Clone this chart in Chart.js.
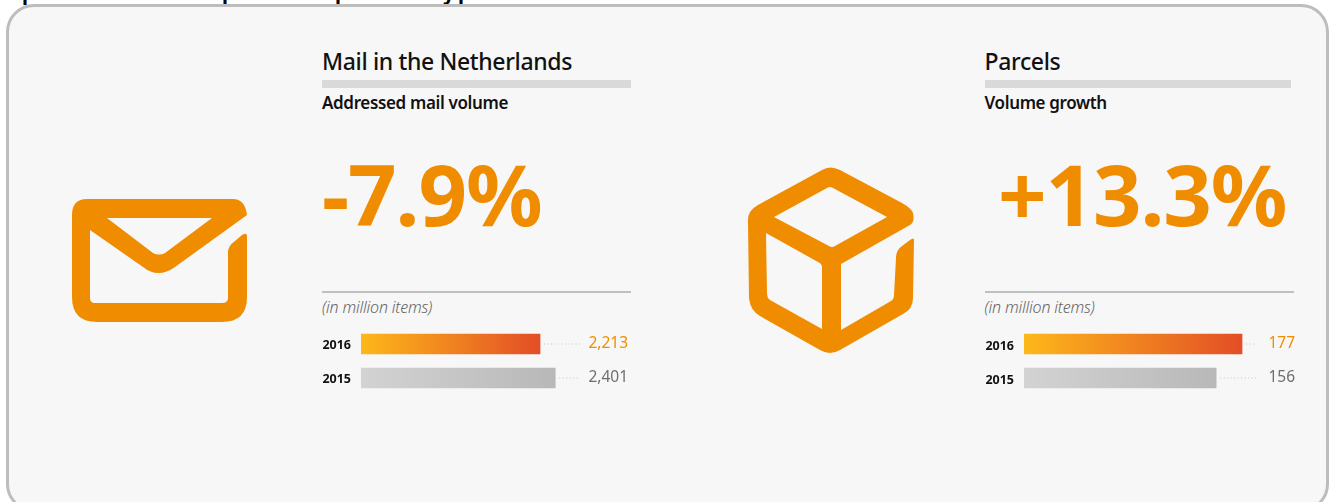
<!DOCTYPE html>
<html lang="en">
<head>
<meta charset="utf-8">
<title>Mail and parcels volumes</title>
<script src="https://cdn.jsdelivr.net/npm/chart.js@4"></script>
<style>
    html, body { margin: 0; padding: 0; background: #fff; }
    body { position: relative; width: 1330px; height: 502px; overflow: hidden; font-family: "Noto Sans", sans-serif; color: #111; }
    .panel { position: absolute; left: 6px; top: 4px; width: 1317px; height: 502px; background: #f7f7f7; border: 3px solid #bdbdbd; border-radius: 28px; }
    .frag { position: absolute; top: -19px; font-size: 20px; font-weight: 700; line-height: 24px; color: #000; }
    .abs { position: absolute; white-space: nowrap; }
    .title { top: 46px; font-size: 23px; line-height: 30px; font-weight: 500; letter-spacing: -0.35px; }
    .bar-rule { top: 80px; height: 8px; background: #d9d9d9; }
    .sub { top: 92px; font-size: 17px; line-height: 22px; font-weight: 600; letter-spacing: -0.35px; }
    .big { top: 138px; font-size: 85px; line-height: 110px; font-weight: 700; color: #f08c00; letter-spacing: -1.1px; }
    .thin-rule { top: 291px; height: 2px; background: #bfbfbf; }
    .unit { top: 296px; font-size: 16px; line-height: 22px; font-style: italic; font-weight: 300; color: #666; letter-spacing: -0.2px; }
    .chart-box { position: absolute; top: 327px; width: 320px; height: 68px; }
    svg { position: absolute; left: 0; top: 0; }
</style>
</head>
<body>
<span class="frag" style="left:22px">p</span>
<span class="frag" style="left:222px">p</span>
<span class="frag" style="left:335px">p</span>
<span class="frag" style="left:443px">y</span>
<span class="frag" style="left:458px">p</span>
<div class="panel"></div>

<svg width="1330" height="502">
    <path fill="#f08c00" fill-rule="evenodd" d="M87 199H233Q245 199 247 215L175 267Q158 279 143 267L90 230V298Q90 303 95 303H222Q228 303 228 298V252Q228 246 235 241L242 235Q247 232 247 236V297Q247 322 222 322H97Q72 322 72 297V215Q72 199 87 199ZM107 218H212L165 253Q159 256 153 253Z"/>
    <path fill="#f08c00" fill-rule="evenodd" d="M822 170L758 205Q747 211 748 222L749 298Q750 310 760 316L820 350Q830 356 840 350L903 314Q913 309 913 298L914 240Q914 237 910 240L902 246Q896 250 896 258L894 295Q894 299 891 301L841 330V264L910 225Q915 222 913 213Q911 208 902 203L840 170Q830 165 822 170ZM827 188Q830 186 833 188L887 217L835 246Q832 248 829 246L774 217ZM766 233L818 262Q822 264 822 267V329L770 300Q767 298 767 293Z"/>
</svg>

<div class="abs title" style="left:322px">Mail in the Netherlands</div>
<div class="abs bar-rule" style="left:322px;width:309px"></div>
<div class="abs sub" style="left:322px">Addressed mail volume</div>
<div class="abs big" style="left:322px">-7.9%</div>
<div class="abs thin-rule" style="left:322px;width:309px"></div>
<div class="abs unit" style="left:322px">(in million items)</div>
<div class="chart-box" style="left:312px"><canvas id="mailChart"></canvas></div>

<div class="abs title" style="left:984.5px">Parcels</div>
<div class="abs bar-rule" style="left:985px;width:306px"></div>
<div class="abs sub" style="left:984.5px">Volume growth</div>
<div class="abs big" style="left:998px">+13.3%</div>
<div class="abs thin-rule" style="left:985px;width:309px"></div>
<div class="abs unit" style="left:984.5px">(in million items)</div>
<div class="chart-box" style="left:975px"><canvas id="parcelChart"></canvas></div>

<script>
const years = ['2016', '2015'];
const mailVolumes = [2213, 2401];
const parcelVolumes = [177, 156];

// draws the dotted leader and the number behind each bar
const barNotes = {
    id: 'barNotes',
    afterDatasetsDraw(chart, args, opts) {
        const ctx = chart.ctx;
        const bars = chart.getDatasetMeta(0).data;
        const right = chart.chartArea.right;
        ctx.save();
        bars.forEach((bar, i) => {
            const colour = i === 0 ? '#f28c00' : '#6e6e6e';
            ctx.strokeStyle = '#c4c4c4';
            ctx.lineWidth = 1;
            ctx.setLineDash([1, 2.5]);
            ctx.beginPath();
            ctx.moveTo(bar.x + 4, bar.y);
            ctx.lineTo(right - opts.leaderGap, bar.y);
            ctx.stroke();
            ctx.setLineDash([]);
            ctx.fillStyle = colour;
            ctx.font = '15.5px "Noto Sans"';
            ctx.textAlign = 'right';
            ctx.textBaseline = 'middle';
            ctx.fillText(chart.data.datasets[0].data[i].toLocaleString('en-US'), right - opts.textGap, bar.y);
        });
        ctx.restore();
    }
};

function barGradient(context) {
    const chart = context.chart;
    if (!chart.chartArea) return '#cccccc';
    const x = chart.scales.x;
    const grad = chart.ctx.createLinearGradient(x.getPixelForValue(0), 0, x.getPixelForValue(context.raw), 0);
    if (context.dataIndex === 0) {
        grad.addColorStop(0, '#fdb81a');
        grad.addColorStop(1, '#e34e26');
    } else {
        grad.addColorStop(0, '#d3d3d3');
        grad.addColorStop(1, '#b8b8b8');
    }
    return grad;
}

function drawVolumeChart(id, values, axisMax, leaderGap, textGap, tickShift) {
    new Chart(document.getElementById(id), {
        type: 'bar',
        data: {
            labels: years,
            datasets: [{
                data: values,
                backgroundColor: barGradient,
                barThickness: 20
            }]
        },
        options: {
            indexAxis: 'y',
            responsive: true,
            maintainAspectRatio: false,
            animation: false,
            layout: { padding: 0, autoPadding: false },
            plugins: {
                legend: { display: false },
                tooltip: { enabled: false },
                barNotes: { leaderGap: leaderGap, textGap: textGap }
            },
            scales: {
                x: { display: false, min: 0, max: axisMax },
                y: {
                    afterFit: function (scale) {
                        scale.width = 49;
                        scale.paddingTop = 0;
                        scale.paddingBottom = 0;
                    },
                    border: { display: false },
                    grid: { display: false, drawTicks: false },
                    ticks: {
                        padding: 10,
                        labelOffset: tickShift,
                        color: '#111',
                        font: { family: '"Noto Sans"', size: 12.5, weight: 'bold' }
                    }
                }
            }
        },
        plugins: [barNotes]
    });
}

drawVolumeChart('mailChart', mailVolumes, 3350, 52, 4, 1.5);
drawVolumeChart('parcelChart', parcelVolumes, 220, 39, 0, 2.5);
</script>
</body>
</html>
